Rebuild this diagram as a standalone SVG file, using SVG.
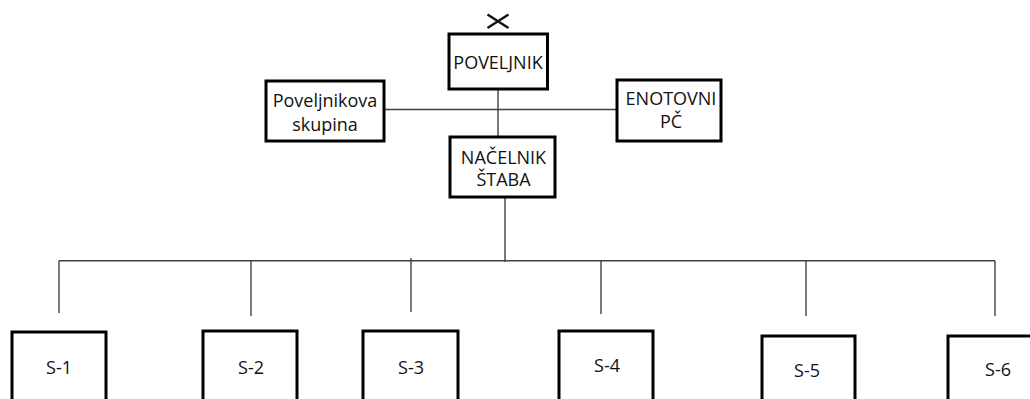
<svg xmlns="http://www.w3.org/2000/svg" width="1030" height="399" viewBox="0 0 1030 399">
<style>
.box{fill:#fff;stroke:#000;stroke-width:3}
.lbl{font-family:"Open Sans","DejaVu Sans",sans-serif;font-size:18px;fill:#111;text-anchor:middle}
.ln{stroke:#404040;stroke-width:1.4;fill:none}
</style>
<rect width="1030" height="399" fill="#fff"/>
<g id="connectors">
<line class="ln" x1="498" y1="89" x2="498" y2="137"/>
<line class="ln" x1="384" y1="109.5" x2="617" y2="109.5"/>
<line class="ln" x1="505" y1="197" x2="505" y2="262"/>
<line class="ln" x1="59" y1="260.7" x2="995" y2="260.7"/>
<line class="ln" x1="59" y1="260.7" x2="59" y2="313"/>
<line class="ln" x1="251" y1="260.7" x2="251" y2="316"/>
<line class="ln" x1="411" y1="258" x2="411" y2="312"/>
<line class="ln" x1="601" y1="260.7" x2="601" y2="314"/>
<line class="ln" x1="806" y1="260.7" x2="806" y2="316"/>
<line class="ln" x1="995" y1="260.7" x2="995" y2="316"/>
</g>
<g id="mark">
<path d="M487.5 14.5 L508.5 28 M508.5 14.5 L487.5 28" stroke="#111" stroke-width="2.4" fill="none"/>
</g>
<g id="poveljnik">
<rect class="box" x="449" y="34" width="98.5" height="55"/>
<text class="lbl" x="498" y="69">POVELJNIK</text>
</g>
<g id="poveljnikova-skupina">
<rect class="box" x="266" y="81" width="118" height="60"/>
<text class="lbl" x="325" y="107">Poveljnikova</text>
<text class="lbl" x="325" y="131">skupina</text>
</g>
<g id="enotovni-pc">
<rect class="box" x="617" y="80" width="104" height="61"/>
<text class="lbl" x="671" y="104.5">ENOTOVNI</text>
<text class="lbl" x="671" y="128">PČ</text>
</g>
<g id="nacelnik-staba">
<rect class="box" x="450" y="137" width="105" height="60"/>
<text class="lbl" x="503.5" y="163.5">NAČELNIK</text>
<text class="lbl" x="503.5" y="186">ŠTABA</text>
</g>
<g id="s1">
<rect class="box" x="12" y="332" width="94" height="80"/>
<text class="lbl" x="59" y="374">S-1</text>
</g>
<g id="s2">
<rect class="box" x="203" y="331" width="94" height="80"/>
<text class="lbl" x="251" y="374">S-2</text>
</g>
<g id="s3">
<rect class="box" x="363" y="331" width="95" height="80"/>
<text class="lbl" x="411" y="374">S-3</text>
</g>
<g id="s4">
<rect class="box" x="559" y="331" width="94" height="80"/>
<text class="lbl" x="607" y="372">S-4</text>
</g>
<g id="s5">
<rect class="box" x="762" y="336" width="93" height="80"/>
<text class="lbl" x="807" y="377">S-5</text>
</g>
<g id="s6">
<rect class="box" x="948" y="336" width="100" height="80"/>
<text class="lbl" x="998" y="376">S-6</text>
</g>
</svg>
